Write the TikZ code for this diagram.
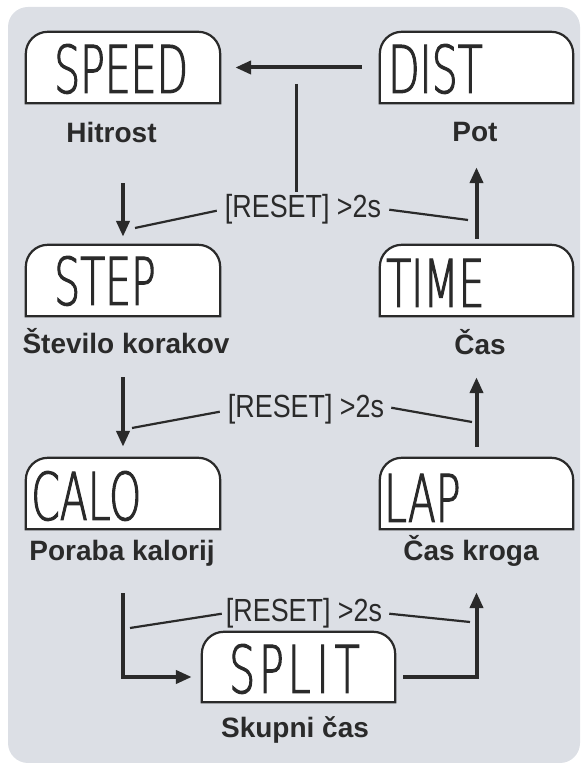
\documentclass[tikz,border=0pt]{standalone}
\usepackage{fontspec}
\setmainfont{Liberation Sans}
\IfFontExistsTF{DejaVu Sans ExtraLight}
  {\newfontfamily\lcdfont[FakeStretch=0.62,FakeBold=1.5]{DejaVu Sans ExtraLight}}
  {\newfontfamily\lcdfont[FakeStretch=0.65]{DejaVu Sans Mono}}
\newfontfamily\narrowfont[FakeStretch=0.84]{Liberation Sans}
\usetikzlibrary{arrows.meta}
\definecolor{panel}{HTML}{DCDFE5}
\definecolor{ink}{HTML}{2A2A2A}

\begin{document}
\begin{tikzpicture}[x=1pt,y=1pt,
  lcdbox/.style={minimum width=194pt, minimum height=71pt, inner sep=0pt, draw=none},
  frame/.style={draw=ink, line width=2.2pt, fill=white},
  lcdtext/.style={anchor=base west, inner sep=0pt, font=\lcdfont\fontsize{66}{66}\selectfont, text=ink},
  caption/.style={anchor=base, inner sep=0pt, font=\bfseries\fontsize{28}{30}\selectfont, text=ink},
  reset/.style={anchor=base, inner sep=3pt, font=\narrowfont\fontsize{32}{34}\selectfont, text=ink},
  flow/.style={draw=ink, line width=4pt, -{Triangle[length=16pt,width=13pt]}},
  hint/.style={draw=ink, line width=2.2pt},
  tap/.style={draw=ink, line width=3pt},
]
\useasboundingbox (0,0) rectangle (584,767);

% panel
\fill[panel, rounded corners=20pt] (8,4) rectangle (580,760);

% display windows
\node[lcdbox] (speed) at (123,699.5) {};
\node[lcdbox, minimum width=193pt] (dist) at (476.5,699.5) {};
\node[lcdbox] (step) at (123,486.5) {};
\node[lcdbox, minimum width=193pt] (time) at (476.5,486.5) {};
\node[lcdbox] (calo) at (123,273.5) {};
\node[lcdbox, minimum width=193pt] (lap) at (476.5,273.5) {};
\node[lcdbox, minimum width=193pt, minimum height=70pt] (split) at (298.5,100) {};

\foreach \b in {speed,dist,step,time,calo,lap,split}{
  \draw[frame] (\b.south west) -- ([yshift=-22pt]\b.north west)
    arc[start angle=180, end angle=90, radius=22pt]
    -- ([xshift=-22pt]\b.north east)
    arc[start angle=90, end angle=0, radius=22pt]
    -- (\b.south east) -- cycle;
}

% segment readouts
\node[lcdtext] (speedtxt) at (54,674) {SPEED};
\node[lcdtext] (disttxt) at (388,674) {DIST};
\node[lcdtext] (steptxt) at (54,462) {STEP};
\node[lcdtext] (timetxt) at (386,460) {TIME};
\node[lcdtext] (calotxt) at (31,247) {CALO};
\node[lcdtext] (laptxt) at (384,245) {LAP};
\node[lcdtext] (splittxt) at (229,74) {S\kern4pt P\kern4pt L\kern6pt I\kern6pt T};

% captions
\node[caption] (cspeed) at (111.5,624) {Hitrost};
\node[caption] (cdist) at (475,625) {Pot};
\node[caption] (cstep) at (126,413) {Število korakov};
\node[caption] (ctime) at (480,412) {Čas};
\node[caption] (ccalo) at (122,206) {Poraba kalorij};
\node[caption] (clap) at (471,206) {Čas kroga};
\node[caption] (csplit) at (295,29) {Skupni čas};

% reset hints
\node[reset] (r1) at (303,549) {[RESET] >2s};
\node[reset] (r2) at (306,349) {[RESET] >2s};
\node[reset] (r3) at (304,145) {[RESET] >2s};

% mode sequence
\draw[flow] ([xshift=-18pt]dist.west) -- ([xshift=15pt]speed.east);
\draw[flow] ([yshift=-80pt]speed.south) -- ([yshift=8pt]step.north);
\draw[flow] ([yshift=-61pt]step.south) -- ([yshift=11pt]calo.north);
\draw[flow] ([yshift=-64pt]calo.south) |- ([xshift=-10pt,yshift=-10pt]split.west);
\draw[flow] ([xshift=8pt,yshift=-10pt]split.east) -| ([yshift=-63pt]lap.south);
\draw[flow] ([yshift=11pt]lap.north) -- ([yshift=-61pt]time.south);
\draw[flow] ([yshift=6pt]time.north) -- ([yshift=-64pt]dist.south);

% reset pointers
\coordinate (tapTop) at (296,683);
\draw[tap] (tapTop) -- (r1.north -| tapTop);

\coordinate (r1a) at (135,539);
\coordinate (r1b) at (468,547);
\coordinate (r2a) at (132,339);
\coordinate (r2b) at (472,345);
\coordinate (r3a) at (130,139);
\coordinate (r3b) at (470,145);
\draw[hint] ([xshift=-5pt,yshift=-1pt]r1.west) -- (r1a);
\draw[hint] ([xshift=5pt]r1.east) -- (r1b);
\draw[hint] ([xshift=-5pt,yshift=-2pt]r2.west) -- (r2a);
\draw[hint] ([xshift=4pt,yshift=2pt]r2.east) -- (r2b);
\draw[hint] ([xshift=-1pt]r3.west) -- (r3a);
\draw[hint] ([xshift=4pt]r3.east) -- (r3b);
\end{tikzpicture}
\end{document}
